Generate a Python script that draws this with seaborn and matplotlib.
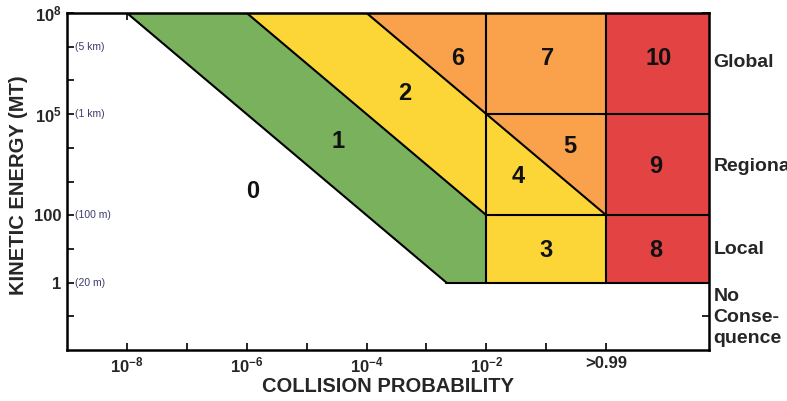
import matplotlib
matplotlib.use("Agg")
import matplotlib.pyplot as plt
import matplotlib.transforms as mtransforms
from matplotlib.ticker import FixedLocator, NullFormatter
import seaborn as sns

# axis ranges (probability, energy in MT)
x_range = [1e-9, 52]
y_range = [1e-2, 1e8]

x_major = [1e-8, 1e-6, 1e-4, 1e-2, 1]
x_labels = ["10$^{-8}$", "10$^{-6}$", "10$^{-4}$", "10$^{-2}$", ">0.99"]
x_minor = [1e-7, 1e-5, 1e-3, 1e-1]

y_major = [1, 1e2, 1e5, 1e8]
y_labels = ["1", "100", "10$^5$", "10$^8$"]
y_minor = [1e-1, 1e1, 1e3, 1e4, 1e6, 1e7]

size_pos = [1e7, 1e5, 1e2, 1]
size_text = ["(5 km)", "(1 km)", "(100 m)", "(20 m)"]

# zone polygons (probability, energy)
zones = {
    1: ([1e-8, 1e-6, 1e-2, 1e-2, 10**(-8 / 3)], [1e8, 1e8, 1e2, 1, 1]),
    2: ([1e-6, 1e-4, 1e-2, 1e-2], [1e8, 1e8, 1e5, 1e2]),
    3: ([1e-2, 1, 1, 1e-2], [1, 1, 1e2, 1e2]),
    4: ([1e-2, 1, 1e-2], [1e2, 1e2, 1e5]),
    5: ([1e-2, 1, 1], [1e5, 1e5, 1e2]),
    6: ([1e-4, 1e-2, 1e-2], [1e8, 1e8, 1e5]),
    7: ([1e-2, 1, 1, 1e-2], [1e5, 1e5, 1e8, 1e8]),
    8: ([1, 52, 52, 1], [1, 1, 1e2, 1e2]),
    9: ([1, 52, 52, 1], [1e2, 1e2, 1e5, 1e5]),
    10: ([1, 52, 52, 1], [1e5, 1e5, 1e8, 1e8]),
}
zone_colors = {1: "#79b15d", 2: "#fcd537", 3: "#fcd537", 4: "#fcd537",
               5: "#f9a24b", 6: "#f9a24b", 7: "#f9a24b",
               8: "#e34343", 9: "#e34343", 10: "#e34343"}

# black boundary lines
lines_x = [
    [1e-8, 10**(-8 / 3)],
    [1e-6, 1e-2],
    [1e-4, 1],
    [10**(-8 / 3), 52],
    [1e-2, 52],
    [1e-2, 52],
    [1e-2, 1e-2],
    [1, 1],
]
lines_y = [
    [1e8, 1],
    [1e8, 1e2],
    [1e8, 1e2],
    [1, 1],
    [1e2, 1e2],
    [1e5, 1e5],
    [1, 1e8],
    [1, 1e8],
]

# zone numbers and their positions
num_text = ["0", "1", "2", "3", "4", "5", "6", "7", "8", "9", "10"]
num_x = [10**-5.9, 10**-4.48, 10**-3.37, 10**-1.0, 10**-1.47, 10**-0.6,
         10**-2.48, 10**-0.98, 10**0.82, 10**0.82, 10**0.87]
num_y = [10**2.7, 10**4.2, 10**5.6, 10**0.95, 10**3.14, 10**4.04,
         10**6.65, 10**6.65, 10**0.95, 10**3.44, 10**6.65]

side_text = ["Global", "Regional", "Local", "No\nConse-\nquence"]
side_y = [10**6.53, 10**3.44, 10**0.97, 10**-1.04]

sns.set_style("ticks")
plt.rcParams["font.family"] = ["Liberation Sans", "DejaVu Sans"]
plt.rcParams["mathtext.fontset"] = "custom"
plt.rcParams["mathtext.rm"] = "Liberation Sans:bold"
plt.rcParams["mathtext.it"] = "Liberation Sans:bold"
plt.rcParams["mathtext.bf"] = "Liberation Sans:bold"

fig = plt.figure(figsize=(7.87, 4.01), dpi=100)
ax = fig.add_axes([67 / 787, 1 - 350 / 401, 642 / 787, 337 / 401])
ax.set_xscale("log")
ax.set_yscale("log")
ax.set_xlim(x_range)
ax.set_ylim(y_range)

for k, (px, py) in zones.items():
    ax.fill(px, py, color=zone_colors[k], lw=0)

for lx, ly in zip(lines_x, lines_y):
    sns.lineplot(x=lx, y=ly, ax=ax, color="black", lw=1.5, sort=False, estimator=None)

for t, x, y in zip(num_text, num_x, num_y):
    ax.text(x, y, t, ha="center", va="center", fontsize=17, color="#111111",
            fontweight="bold")

ax.set_xticks(x_major)
ax.set_xticklabels(x_labels)
ax.xaxis.set_minor_locator(FixedLocator(x_minor))
ax.xaxis.set_minor_formatter(NullFormatter())
ax.set_yticks(y_major)
ax.set_yticklabels(y_labels)
ax.yaxis.set_minor_locator(FixedLocator(y_minor))
ax.yaxis.set_minor_formatter(NullFormatter())
ax.tick_params(which="both", direction="in", top=True, right=True,
               length=5, width=1.2, color="black")
ax.tick_params(axis="both", which="major", labelsize=12, pad=4)
for lab in ax.get_xticklabels() + ax.get_yticklabels():
    lab.set_fontweight("bold")

for s in ax.spines.values():
    s.set_linewidth(1.8)
    s.set_color("black")

trans = mtransforms.blended_transform_factory(ax.transAxes, ax.transData)
for t, y in zip(size_text, size_pos):
    ax.annotate(t, xy=(0, y), xycoords=trans, xytext=(6, 0),
                textcoords="offset points", ha="left", va="center",
                fontsize=7.5, color="#3b3b6b")

for t, y in zip(side_text, side_y):
    ax.text(1.007, y, t, transform=trans, ha="left", va="center",
            fontsize=14, fontweight="bold", linespacing=1.3, clip_on=False)

ax.set_xlabel("COLLISION PROBABILITY", fontsize=14.5, fontweight="bold")
ax.set_ylabel("KINETIC ENERGY (MT)", fontsize=14.5, fontweight="bold")
ax.xaxis.set_label_coords(0.5, -0.08)
ax.yaxis.set_label_coords(-0.061, 0.49)

fig.savefig("out.png", dpi=100)
